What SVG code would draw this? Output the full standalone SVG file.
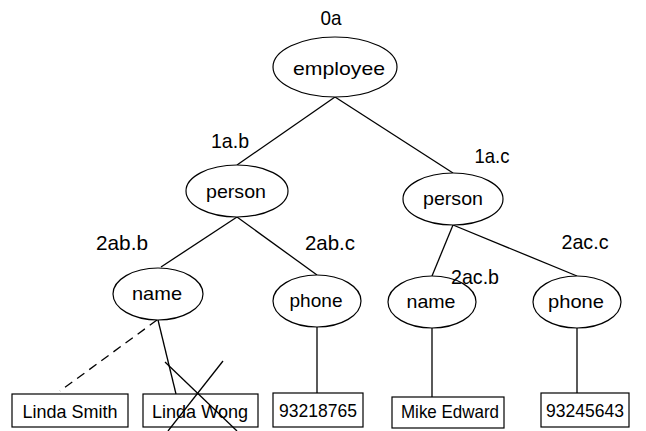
<svg xmlns="http://www.w3.org/2000/svg" width="646" height="431" viewBox="0 0 646 431">
<style>
.n{fill:#fff;stroke:#000;stroke-width:1.2}
.t{font-family:"Liberation Sans",Arial,sans-serif;font-size:19px;fill:#000;text-anchor:middle}
.l{font-family:"Liberation Sans",Arial,sans-serif;font-size:21px;fill:#000;text-anchor:middle}
.e{stroke:#000;stroke-width:1.3;fill:none}
.d{stroke-dasharray:9,6}
</style>
<rect width="646" height="431" fill="#fff"/>
<g id="connectors">
<line class="e" x1="335" y1="97" x2="237" y2="165"/>
<line class="e" x1="335" y1="97" x2="453" y2="173"/>
<line class="e" x1="237" y1="217" x2="161" y2="267"/>
<line class="e" x1="237" y1="217" x2="317" y2="275"/>
<line class="e" x1="453" y1="225" x2="432" y2="276"/>
<line class="e" x1="453" y1="225" x2="577" y2="276"/>
<line class="e d" x1="157" y1="320" x2="60" y2="391"/>
<line class="e" x1="158" y1="320" x2="176" y2="394"/>
<line class="e" x1="317" y1="327" x2="317" y2="393"/>
<line class="e" x1="432" y1="327" x2="432" y2="397"/>
<line class="e" x1="577" y1="327" x2="577" y2="393"/>
</g>
<g id="employee">
<ellipse class="n" cx="335" cy="67" rx="62" ry="30"/>
<text class="t" x="339" y="75" textLength="92" lengthAdjust="spacingAndGlyphs">employee</text>
<text class="l" x="331" y="25" textLength="21" lengthAdjust="spacingAndGlyphs">0a</text>
</g>
<g id="person1">
<ellipse class="n" cx="237" cy="191" rx="51" ry="26"/>
<text class="t" x="236" y="198" textLength="60" lengthAdjust="spacingAndGlyphs">person</text>
<text class="l" x="230" y="148" textLength="38" lengthAdjust="spacingAndGlyphs">1a.b</text>
</g>
<g id="person2">
<ellipse class="n" cx="453" cy="199" rx="50" ry="26"/>
<text class="t" x="453" y="205" textLength="60" lengthAdjust="spacingAndGlyphs">person</text>
<text class="l" x="492" y="163" textLength="35" lengthAdjust="spacingAndGlyphs">1a.c</text>
</g>
<g id="name1">
<ellipse class="n" cx="158" cy="294" rx="45" ry="26"/>
<text class="t" x="157" y="300" textLength="50" lengthAdjust="spacingAndGlyphs">name</text>
<text class="l" x="122" y="250" textLength="52" lengthAdjust="spacingAndGlyphs">2ab.b</text>
</g>
<g id="phone1">
<ellipse class="n" cx="317" cy="301" rx="44" ry="26"/>
<text class="t" x="316" y="307" textLength="53" lengthAdjust="spacingAndGlyphs">phone</text>
<text class="l" x="330" y="250" textLength="50" lengthAdjust="spacingAndGlyphs">2ab.c</text>
</g>
<g id="name2">
<ellipse class="n" cx="432" cy="302" rx="44" ry="26"/>
<text class="t" x="431" y="308" textLength="49" lengthAdjust="spacingAndGlyphs">name</text>
<text class="l" x="475" y="284" textLength="48" lengthAdjust="spacingAndGlyphs">2ac.b</text>
</g>
<g id="phone2">
<ellipse class="n" cx="577" cy="302" rx="44" ry="26"/>
<text class="t" x="576" y="308" textLength="56" lengthAdjust="spacingAndGlyphs">phone</text>
<text class="l" x="585" y="249" textLength="47" lengthAdjust="spacingAndGlyphs">2ac.c</text>
</g>
<g id="lindasmith">
<rect class="n" x="12" y="394" width="116" height="33"/>
<text class="t" x="70" y="418" textLength="95" lengthAdjust="spacingAndGlyphs">Linda Smith</text>
</g>
<g id="lindawong">
<rect class="n" x="143" y="394" width="115" height="33"/>
<text class="t" x="200" y="418" textLength="96" lengthAdjust="spacingAndGlyphs">Linda Wong</text>
<line class="e" x1="165" y1="362" x2="237" y2="431"/>
<line class="e" x1="223" y1="361" x2="168" y2="431"/>
</g>
<g id="phone1val">
<rect class="n" x="273" y="393" width="90" height="34"/>
<text class="t" x="318" y="417" textLength="78" lengthAdjust="spacingAndGlyphs">93218765</text>
</g>
<g id="mikeedward">
<rect class="n" x="392" y="397" width="112" height="31"/>
<text class="t" x="450" y="418" textLength="98" lengthAdjust="spacingAndGlyphs">Mike Edward</text>
</g>
<g id="phone2val">
<rect class="n" x="541" y="393" width="88" height="34"/>
<text class="t" x="585" y="417" textLength="78" lengthAdjust="spacingAndGlyphs">93245643</text>
</g>
</svg>
